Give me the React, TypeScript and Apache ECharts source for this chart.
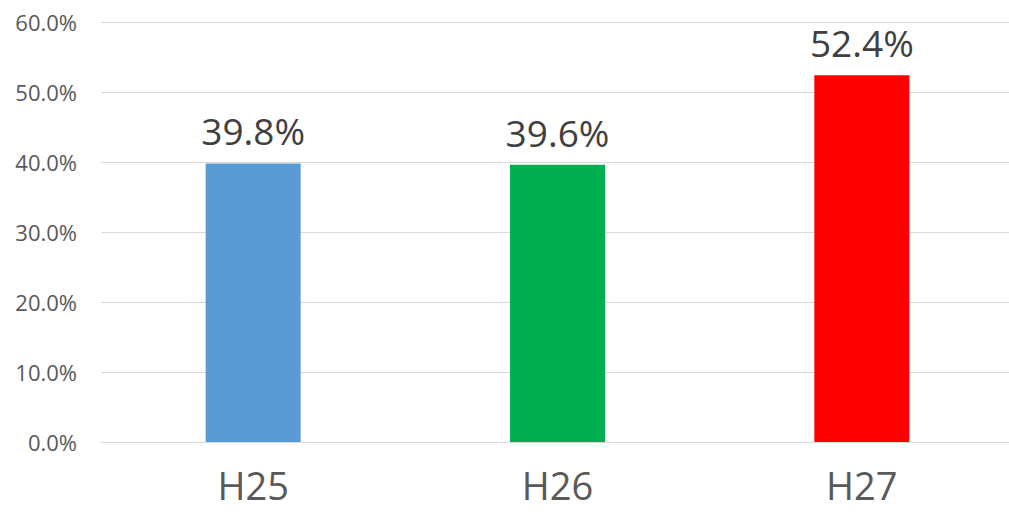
import React, { useEffect, useRef } from "react";
import * as echarts from "echarts";

const categories = ["H25", "H26", "H27"];
const values = [39.8, 39.6, 52.4];
const barColors = ["#5B9BD5", "#00B050", "#FF0000"];
const yTicks = { min: 0, max: 60, interval: 10 };

export default function App() {
  const ref = useRef<HTMLDivElement>(null);
  useEffect(() => {
    if (!ref.current) return;
    const chart = echarts.init(ref.current, undefined, { renderer: "svg" });
    chart.setOption({
      animation: false,
      grid: { left: 101, right: 6, top: 22, bottom: 78, containLabel: false },
      xAxis: {
        type: "category",
        data: categories,
        axisLine: { show: true, lineStyle: { color: "#D9D9D9", width: 1 } },
        axisTick: { show: false },
        axisLabel: {
          fontFamily: "Open Sans",
          fontSize: 38,
          color: "#595959",
          margin: 24,
        },
      },
      yAxis: {
        type: "value",
        min: yTicks.min,
        max: yTicks.max,
        interval: yTicks.interval,
        axisLine: { show: false },
        axisTick: { show: false },
        splitLine: { lineStyle: { color: "#D9D9D9", width: 1 } },
        axisLabel: {
          fontFamily: "Open Sans",
          fontSize: 22,
          color: "#595959",
          margin: 24,
          formatter: (v: number) => v.toFixed(1) + "%",
        },
      },
      series: [
        {
          type: "bar",
          barWidth: 95,
          data: values.map((v, i) => ({ value: v, itemStyle: { color: barColors[i] } })),
          label: {
            show: true,
            position: "top",
            distance: 14,
            fontFamily: "Open Sans",
            fontSize: 37,
            color: "#404040",
            formatter: (p: any) => p.value.toFixed(1) + "%",
          },
        },
      ],
    });
    return () => chart.dispose();
  }, []);
  return (
    <div
      style={{
        position: "absolute",
        left: 0,
        top: 0,
        width: 1009,
        height: 520,
        overflow: "hidden",
        background: "#fff",
      }}
    >
      <div ref={ref} style={{ width: 1020, height: 520 }} />
    </div>
  );
}
